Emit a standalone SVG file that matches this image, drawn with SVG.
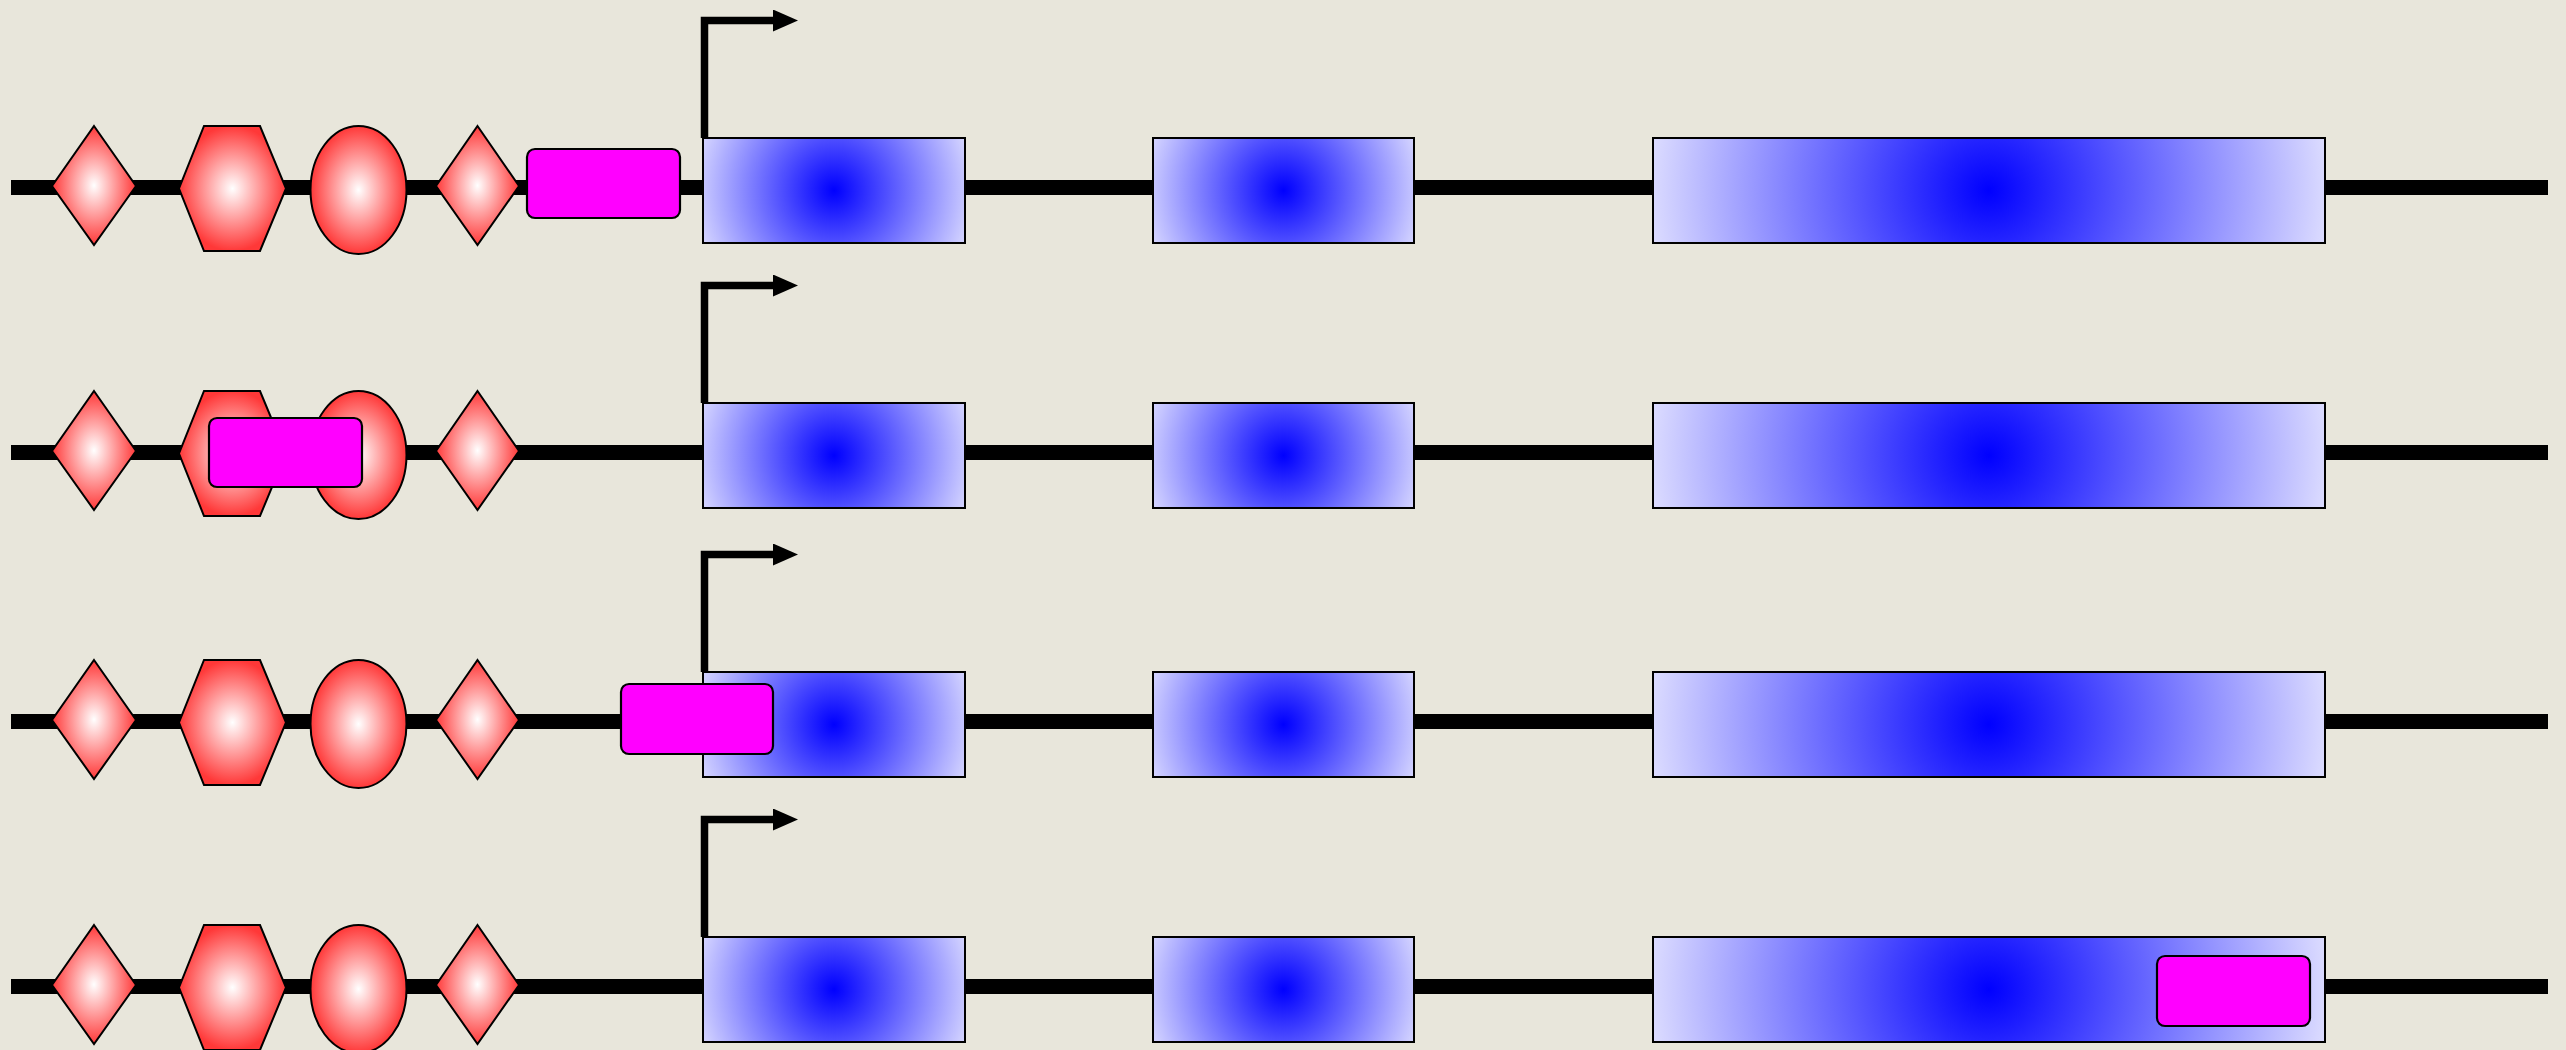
<svg xmlns="http://www.w3.org/2000/svg" width="2566" height="1050" viewBox="0 0 2566 1050">
<style>
.bb{stroke:#000;stroke-width:15;fill:none}
.prom{stroke:#000;stroke-width:7.5;fill:none;stroke-linejoin:miter;stroke-linecap:butt}
.red{fill:url(#gr);stroke:#000;stroke-width:2}
.exs{fill:url(#gbs);stroke:#000;stroke-width:2}
.exl{fill:url(#gbl);stroke:#000;stroke-width:2}
.tf{fill:#ff00ff;stroke:#000;stroke-width:2.2}
</style>
<defs>
<radialGradient id="gr" cx="0.5" cy="0.5" r="0.5">
<stop offset="0" stop-color="#ffffff"/>
<stop offset="1" stop-color="#ff3838"/>
</radialGradient>
<radialGradient id="gbs" cx="0.5" cy="0.5" r="0.575" gradientTransform="translate(0.5,0.5) scale(1,2.5) translate(-0.5,-0.5)">
<stop offset="0" stop-color="#0000ff"/>
<stop offset="1" stop-color="#e4e4ff"/>
</radialGradient>
<radialGradient id="gbl" cx="0.5" cy="0.5" r="0.52" gradientTransform="translate(0.5,0.5) scale(1,6) translate(-0.5,-0.5)">
<stop offset="0" stop-color="#0000ff"/>
<stop offset="1" stop-color="#e2e2ff"/>
</radialGradient>
<marker id="ah" markerUnits="userSpaceOnUse" viewBox="0 0 25 22" markerWidth="25" markerHeight="22" refX="0" refY="11" orient="auto">
<polygon points="0,0 25,11 0,22" fill="#000"/>
</marker>
<filter id="paper" x="0" y="0" width="1" height="1">
<feTurbulence type="fractalNoise" baseFrequency="0.02" numOctaves="3" seed="4" result="n"/>
<feColorMatrix type="matrix" values="0 0 0 0 0.90  0 0 0 0 0.89  0 0 0 0 0.85  0 0 0 0.35 0" in="n" result="c"/>
<feComposite in="c" in2="SourceGraphic" operator="over"/>
</filter>
</defs>
<rect id="background" x="0" y="0" width="2566" height="1050" fill="#e8e6db"/>
<g id="connectors">
<line class="bb" x1="11" y1="187.5" x2="2548" y2="187.5"/>
<line class="bb" x1="11" y1="452.5" x2="2548" y2="452.5"/>
<line class="bb" x1="11" y1="721.5" x2="2548" y2="721.5"/>
<line class="bb" x1="11" y1="986.5" x2="2548" y2="986.5"/>
<path class="prom" d="M704.5,138 V20.5 H773" marker-end="url(#ah)"/>
<path class="prom" d="M704.5,403 V285.5 H773" marker-end="url(#ah)"/>
<path class="prom" d="M704.5,672 V554.5 H773" marker-end="url(#ah)"/>
<path class="prom" d="M704.5,937 V819.5 H773" marker-end="url(#ah)"/>
</g>
<!-- Row 1 -->
<g id="row1" transform="translate(0,0)">
<g id="r1-diamond1"><polygon class="red" points="94,126 136,186 94,245 52,186"/></g>
<g id="r1-hexagon"><polygon class="red" points="204,126 260,126 286,188.5 260,251 204,251 179,188.5"/></g>
<g id="r1-ellipse"><ellipse class="red" cx="358.5" cy="190" rx="48" ry="64"/></g>
<g id="r1-diamond2"><polygon class="red" points="477.5,126 519,186 477.5,245 436,186"/></g>
<g id="r1-exon1"><rect class="exs" x="703" y="138" width="262" height="105"/></g>
<g id="r1-exon2"><rect class="exs" x="1153" y="138" width="261" height="105"/></g>
<g id="r1-exon3"><rect class="exl" x="1653" y="138" width="672" height="105"/></g>
<g id="r1-factor"><rect class="tf" x="527" y="149" width="153" height="69" rx="8"/></g>
</g>
<!-- Row 2 -->
<g id="row2" transform="translate(0,265)">
<g id="r2-diamond1"><polygon class="red" points="94,126 136,186 94,245 52,186"/></g>
<g id="r2-hexagon"><polygon class="red" points="204,126 260,126 286,188.5 260,251 204,251 179,188.5"/></g>
<g id="r2-ellipse"><ellipse class="red" cx="358.5" cy="190" rx="48" ry="64"/></g>
<g id="r2-diamond2"><polygon class="red" points="477.5,126 519,186 477.5,245 436,186"/></g>
<g id="r2-exon1"><rect class="exs" x="703" y="138" width="262" height="105"/></g>
<g id="r2-exon2"><rect class="exs" x="1153" y="138" width="261" height="105"/></g>
<g id="r2-exon3"><rect class="exl" x="1653" y="138" width="672" height="105"/></g>
<g id="r2-factor"><rect class="tf" x="209" y="153" width="153" height="69" rx="8"/></g>
</g>
<!-- Row 3 -->
<g id="row3" transform="translate(0,534)">
<g id="r3-diamond1"><polygon class="red" points="94,126 136,186 94,245 52,186"/></g>
<g id="r3-hexagon"><polygon class="red" points="204,126 260,126 286,188.5 260,251 204,251 179,188.5"/></g>
<g id="r3-ellipse"><ellipse class="red" cx="358.5" cy="190" rx="48" ry="64"/></g>
<g id="r3-diamond2"><polygon class="red" points="477.5,126 519,186 477.5,245 436,186"/></g>
<g id="r3-exon1"><rect class="exs" x="703" y="138" width="262" height="105"/></g>
<g id="r3-exon2"><rect class="exs" x="1153" y="138" width="261" height="105"/></g>
<g id="r3-exon3"><rect class="exl" x="1653" y="138" width="672" height="105"/></g>
<g id="r3-factor"><rect class="tf" x="621" y="150" width="152" height="70" rx="8"/></g>
</g>
<!-- Row 4 -->
<g id="row4" transform="translate(0,799)">
<g id="r4-diamond1"><polygon class="red" points="94,126 136,186 94,245 52,186"/></g>
<g id="r4-hexagon"><polygon class="red" points="204,126 260,126 286,188.5 260,251 204,251 179,188.5"/></g>
<g id="r4-ellipse"><ellipse class="red" cx="358.5" cy="190" rx="48" ry="64"/></g>
<g id="r4-diamond2"><polygon class="red" points="477.5,126 519,186 477.5,245 436,186"/></g>
<g id="r4-exon1"><rect class="exs" x="703" y="138" width="262" height="105"/></g>
<g id="r4-exon2"><rect class="exs" x="1153" y="138" width="261" height="105"/></g>
<g id="r4-exon3"><rect class="exl" x="1653" y="138" width="672" height="105"/></g>
<g id="r4-factor"><rect class="tf" x="2157" y="157" width="153" height="70" rx="8"/></g>
</g>
</svg>
